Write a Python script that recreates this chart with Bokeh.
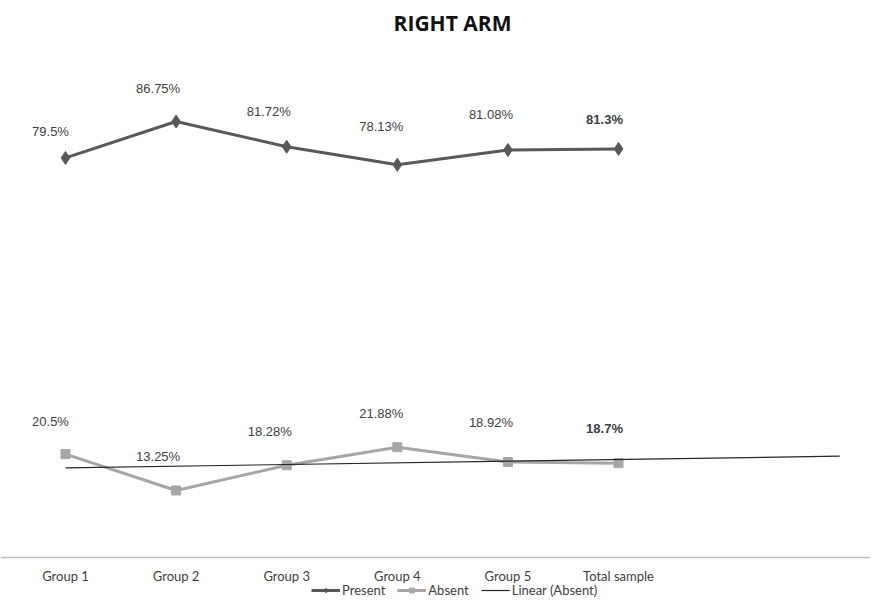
from bokeh.plotting import figure
from bokeh.models import ColumnDataSource, Range1d, FixedTicker, Legend, LegendItem, Label
from bokeh.core.properties import value
from bokeh.embed import file_html
from bokeh.resources import INLINE
import numpy as np

# ---- data ----
title_text = "RIGHT ARM"
categories = ["Group 1", "Group 2", "Group 3", "Group 4", "Group 5", "Total sample"]
present = [79.5, 86.75, 81.72, 78.13, 81.08, 81.3]
absent = [20.5, 13.25, 18.28, 21.88, 18.92, 18.7]
present_labels = ["79.5%", "86.75%", "81.72%", "78.13%", "81.08%", "81.3%"]
absent_labels = ["20.5%", "13.25%", "18.28%", "21.88%", "18.92%", "18.7%"]
label_weight = ["normal", "normal", "normal", "normal", "normal", "bold"]
x_pos = list(range(1, len(categories) + 1))
trend_forward = 2  # Excel trendline forecast forward periods

# label placement (screen px)
present_dx = [-15, -18, -18, -16, -17, -14]
present_dy = [26, 33, 35, 38, 35, 29]
absent_dx = [-15, -18, -17, -16, -17, -14]
absent_dy = [33, 34, 34, 34, 40, 35]

# linear trendline of Absent
coef = np.polyfit(x_pos, absent, 1)
trend_x = [x_pos[0], x_pos[-1] + trend_forward]
trend_y = list(np.polyval(coef, trend_x))

W, H = 870, 598
p = figure(width=W, height=H, output_backend="svg", toolbar_location=None,
           x_range=Range1d(0.4123, 8.278), y_range=Range1d(-8.267, 110.86),
           min_border_left=0, min_border_right=0, min_border_top=0, min_border_bottom=0)
p.outline_line_color = None
p.xgrid.grid_line_color = None
p.ygrid.grid_line_color = None
p.yaxis.visible = False

ax = p.xaxis[0]
ax.fixed_location = 0
ax.ticker = FixedTicker(ticks=x_pos)
ax.major_label_overrides = {i: c for i, c in zip(x_pos, categories)}
ax.axis_line_color = "#bfbfbf"
ax.axis_line_width = 1.5
ax.major_tick_line_color = None
ax.minor_tick_line_color = None
ax.major_label_standoff = 5
ax.major_label_text_font = "Lato"
ax.major_label_text_font_size = "13px"
ax.major_label_text_color = "#404040"

p.add_layout(Label(x=452, y=H - 22.5, x_units="screen", y_units="screen",
                   text=title_text, text_font="Open Sans", text_font_style="bold",
                   text_font_size="21px", text_color="#111111",
                   text_align="center", text_baseline="middle"))

src_p = ColumnDataSource(dict(x=x_pos, y=present, t=present_labels, dx=present_dx,
                              dy=[-d for d in present_dy], w=label_weight))
src_a = ColumnDataSource(dict(x=x_pos, y=absent, t=absent_labels, dx=absent_dx,
                              dy=[-d for d in absent_dy], w=label_weight))

lp = p.line("x", "y", source=src_p, line_color="#595959", line_width=3)
mp = p.scatter("x", "y", source=src_p, marker="diamond", size=13, color="#595959")
la = p.line("x", "y", source=src_a, line_color="#a6a6a6", line_width=3)
ma = p.scatter("x", "y", source=src_a, marker="square", size=9, color="#a6a6a6")
lt = p.line(trend_x, trend_y, line_color="#262626", line_width=1.2)

for src in (src_p, src_a):
    p.text("x", "y", text="t", source=src, x_offset="dx", y_offset="dy",
           text_font=value("Liberation Sans"), text_font_size="13px",
           text_font_style="w", text_color="#404040",
           text_align="center", text_baseline="middle")

legend = Legend(items=[LegendItem(label="Present", renderers=[lp, mp]),
                       LegendItem(label="Absent", renderers=[la, ma]),
                       LegendItem(label="Linear (Absent)", renderers=[lt])],
                orientation="horizontal", location=(311, 0),
                background_fill_alpha=0, border_line_color=None,
                padding=0, margin=0, spacing=12, glyph_width=29, glyph_height=12,
                label_standoff=2, label_height=12,
                label_text_font="Lato", label_text_font_size="13px",
                label_text_color="#404040")
p.add_layout(legend, "center")

open("out.html", "w").write(file_html(p, INLINE))
